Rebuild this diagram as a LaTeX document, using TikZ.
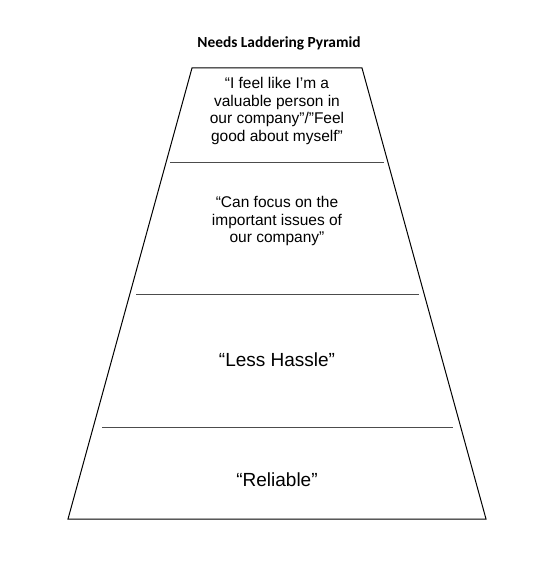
\documentclass[tikz,border=0pt]{standalone}
\usepackage{fontspec}
\setmainfont{Liberation Sans}
\newfontfamily\titlefont{Carlito}
\begin{document}
\begin{tikzpicture}[x=1pt,y=-1pt,
  outline/.style={draw=black,line width=1pt},
  divider/.style={draw=black!70,line width=1pt},
  smalltext/.style={align=center,font=\fontsize{15.5}{17.7}\selectfont,inner sep=0pt},
  bigtext/.style={align=center,font=\fontsize{19}{22}\selectfont,inner sep=0pt},
  titletext/.style={font=\titlefont\bfseries\fontsize{15.4}{17}\selectfont,inner sep=0pt}]
\useasboundingbox[fill=white] (0,0) rectangle (550,561);
\coordinate (tl) at (192,68);
\coordinate (tr) at (362,68);
\coordinate (br) at (486,519);
\coordinate (bl) at (68,519);
\draw[outline] (tl) -- (tr) -- (br) -- (bl) -- cycle;
\coordinate (d1l) at (170,163);
\coordinate (d1r) at (384,163);
\coordinate (d2l) at (136,294);
\coordinate (d2r) at (419,294);
\coordinate (d3l) at (102,427);
\coordinate (d3r) at (453,427);
\draw[divider] (d1l) -- (d1r);
\draw[divider] (d2l) -- (d2r);
\draw[divider] (d3l) -- (d3r);
\node[titletext] (title) at (279,43) {Needs Laddering Pyramid};
\node[smalltext] (lvl4) at (277,111) {“I feel like I’m a\\valuable person in\\our company”/”Feel\\good about myself”};
\node[smalltext] (lvl3) at (277,221) {“Can focus on the\\important issues of\\our company”};
\node[bigtext] (lvl2) at (277,360) {“Less Hassle”};
\node[bigtext] (lvl1) at (277,480) {“Reliable”};
\end{tikzpicture}
\end{document}
